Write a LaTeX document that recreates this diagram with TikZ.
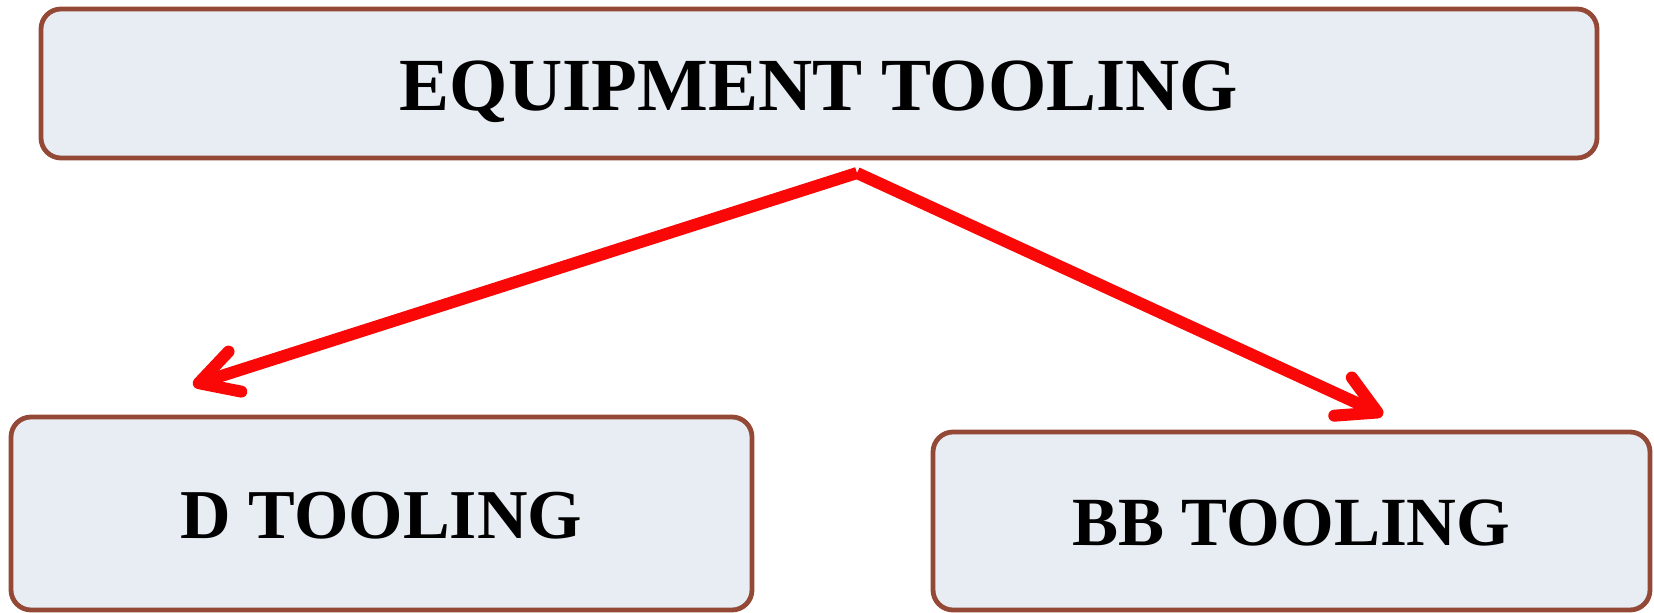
\documentclass[tikz,border=0pt]{standalone}
\usepackage{fontspec}
\setmainfont{Liberation Serif}
\usetikzlibrary{arrows.meta,positioning}
\definecolor{rustbrown}{RGB}{148,72,54}
\definecolor{paleblue}{RGB}{232,237,244}
\definecolor{arrowred}{RGB}{250,8,8}

\tikzset{
  toolbox/.style={draw=rustbrown, line width=2.4pt, fill=paleblue,
                  rounded corners=10pt, inner sep=0pt, text depth=0pt,
                  font=\fontsize{35}{35}\selectfont\bfseries},
  branch/.style={draw=arrowred, line width=6pt,
                 -{Straight Barb[length=19pt, width=21pt, round]}}
}

\begin{document}
\begin{tikzpicture}[x=0.5pt, y=-0.5pt]
\useasboundingbox (0,0) rectangle (1654,613);

% top box and the two tooling boxes
\node[toolbox, minimum width=778pt, minimum height=74.5pt,
      font=\fontsize{37.5}{37.5}\selectfont\bfseries] (equip) at (819,83.5) {\raisebox{-2pt}{EQUIPMENT TOOLING}};
\node[toolbox, minimum width=370.5pt, minimum height=96.5pt] (dtool) at (381.5,513.5) {\raisebox{-1.5pt}{D TOOLING}};
\node[toolbox, minimum width=358.5pt, minimum height=89pt,
      font=\fontsize{34.5}{34.5}\selectfont\bfseries] (bbtool) at (1291.5,521) {\raisebox{-2pt}{BB TOOLING}};

% arrows split just below the top box
\coordinate (split) at (857,173);
\coordinate (dtip) at (193,385);
\coordinate (bbtip) at (1383,415);
\draw[branch] (split) -- (dtip);
\draw[branch] (split) -- (bbtip);
\end{tikzpicture}
\end{document}
